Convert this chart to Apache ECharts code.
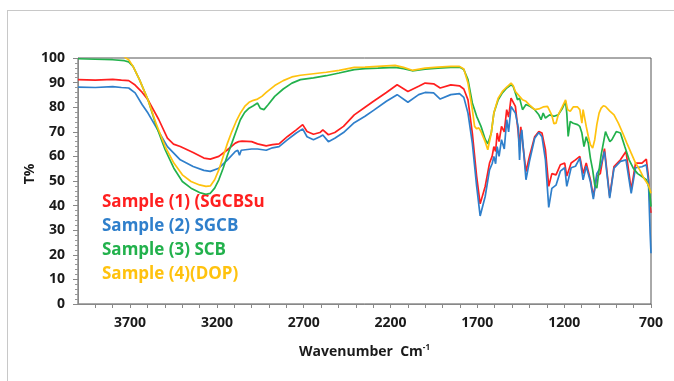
<!DOCTYPE html>
<html>
<head>
<meta charset="utf-8">
<script src="https://cdn.jsdelivr.net/npm/echarts@6/dist/echarts.min.js"></script>
<style>
  html, body { margin: 0; padding: 0; background: #fff; }
  #frame { position: absolute; left: 7px; top: 10px; width: 720px; height: 420px; border: 1px solid #c8c8c8; }
  #chart { position: absolute; left: 0; top: 0; width: 674px; height: 381px; }
</style>
</head>
<body>
<div id="frame"></div>
<div id="chart"></div>
<script>
// FTIR spectra, transmittance (T%) vs wavenumber (cm-1)
const xTicks = [3700, 3200, 2700, 2200, 1700, 1200, 700]

const sample1Wn = [4000, 3900, 3800, 3750, 3708, 3671, 3630, 3597, 3535, 3485, 3450, 3411, 3337, 3275, 3238, 3189, 3139, 3094, 3075, 3065, 3055, 3000, 2966, 2916, 2880, 2842, 2793, 2743, 2706, 2681, 2644, 2607, 2590, 2558, 2521, 2471, 2409, 2347, 2298, 2224, 2162, 2100, 2038, 2001, 1952, 1914, 1853, 1803, 1778, 1754, 1729, 1704, 1684, 1655, 1630, 1615, 1605, 1595, 1586, 1575, 1561, 1545, 1531, 1520, 1506, 1495, 1481, 1465, 1457, 1450, 1444, 1420, 1400, 1370, 1346, 1328, 1308, 1289, 1271, 1247, 1222, 1197, 1185, 1160, 1135, 1110, 1091, 1073, 1049, 1032, 1012, 992, 968, 938, 913, 876, 844, 814, 789, 752, 727, 715, 705, 700]
const sample1T = [91.2, 91.0, 91.3, 91.0, 90.8, 89, 86, 83, 75, 67.4, 65, 64, 61.6, 59.3, 58.9, 60, 62.7, 65.4, 66, 65.2, 66.2, 66, 65.1, 64.3, 64.8, 65.1, 68.1, 70.8, 72.9, 70.1, 69, 69.7, 70.8, 68.8, 69.7, 72.2, 76.9, 80, 82.4, 86, 89.1, 86.4, 88.5, 89.8, 89.5, 87.8, 89.1, 88.7, 87.4, 83, 69.5, 51.8, 40.7, 47.8, 57.3, 60, 64, 62, 69.5, 66, 72.2, 70, 79, 76, 83.7, 84, 80.3, 70, 64, 72, 72, 53.8, 60, 68, 70.1, 69.5, 62.7, 47.8, 53, 52.5, 56.6, 57.3, 52, 57.3, 58.6, 60, 53, 57.3, 50.5, 43.7, 52, 53, 63.2, 43.7, 55.9, 58.6, 62, 46.4, 57.3, 57.3, 58.9, 51.8, 39.6, 37]

const sample2Wn = [4000, 3900, 3800, 3750, 3708, 3671, 3630, 3597, 3535, 3485, 3411, 3337, 3275, 3238, 3189, 3139, 3094, 3080, 3070, 3060, 3000, 2966, 2916, 2880, 2842, 2793, 2743, 2706, 2681, 2644, 2607, 2590, 2558, 2521, 2471, 2409, 2347, 2298, 2224, 2162, 2100, 2038, 2001, 1952, 1914, 1853, 1803, 1778, 1754, 1729, 1704, 1684, 1655, 1630, 1615, 1605, 1595, 1586, 1575, 1561, 1545, 1531, 1520, 1506, 1495, 1481, 1465, 1457, 1450, 1444, 1420, 1400, 1370, 1346, 1328, 1308, 1289, 1271, 1247, 1222, 1197, 1185, 1160, 1135, 1110, 1091, 1073, 1049, 1032, 1012, 992, 968, 938, 913, 876, 844, 814, 789, 752, 727, 715, 705, 700]
const sample2T = [88.2, 88.0, 88.4, 88, 87.8, 85.8, 81, 77.6, 70.1, 64, 58.6, 55.9, 54.3, 53.9, 55.2, 58.6, 62, 62.5, 60.5, 62.5, 63, 63, 62.5, 63.5, 64, 66.8, 69.5, 71.2, 68, 66.8, 68, 68.7, 66, 67.4, 69.7, 73.7, 76.3, 78.7, 82.4, 85.1, 82, 85.1, 86, 85.8, 83.3, 85.1, 85.5, 84, 77.6, 65.4, 47.8, 35.8, 43.7, 54.5, 57, 60, 57, 64, 60, 66.8, 63, 74.9, 70, 80.3, 79.6, 77.6, 72, 58.6, 68, 70.8, 50.5, 58, 67.4, 69.7, 68, 58.6, 39.3, 47, 48.3, 54, 55.4, 47.8, 55.4, 56, 59.3, 50.5, 56, 49.8, 42.6, 53, 55.4, 62, 43, 55.2, 58, 58.6, 45, 55.4, 55.8, 56.6, 50.5, 28.8, 20.6]

const sample3Wn = [4000, 3900, 3800, 3733, 3708, 3683, 3646, 3597, 3548, 3498, 3448, 3399, 3349, 3300, 3263, 3238, 3213, 3189, 3164, 3139, 3114, 3090, 3065, 3040, 3015, 2990, 2966, 2950, 2929, 2904, 2867, 2818, 2768, 2719, 2644, 2570, 2496, 2409, 2347, 2273, 2174, 2125, 2075, 2001, 1927, 1853, 1803, 1778, 1754, 1729, 1704, 1679, 1655, 1640, 1620, 1605, 1580, 1556, 1531, 1506, 1494, 1481, 1469, 1457, 1440, 1420, 1395, 1370, 1346, 1333, 1321, 1308, 1284, 1259, 1234, 1210, 1192, 1185, 1177, 1165, 1148, 1123, 1110, 1098, 1086, 1073, 1061, 1049, 1036, 1024, 1012, 999, 987, 962, 950, 937, 925, 900, 876, 851, 826, 802, 777, 752, 727, 710, 700]
const sample3T = [99.7, 99.5, 99.3, 98.9, 98.4, 96.6, 91.2, 83, 72.2, 62.7, 55.2, 49.8, 47.1, 45.3, 44.6, 45, 47.1, 50.5, 55.2, 60.6, 65.4, 70.1, 74.9, 77.9, 79.6, 80.6, 81.7, 79.5, 79, 81.1, 84.4, 87.4, 89.8, 91.2, 91.9, 92.8, 93.9, 95.3, 95.7, 95.9, 96.2, 95.7, 94.8, 95.5, 95.9, 96.2, 96.3, 95.3, 91.2, 81.7, 76.3, 72.2, 67, 65.1, 69.5, 77.6, 83, 85.8, 87.8, 89.1, 88.5, 85.8, 83, 83.7, 79, 81.1, 80.3, 79, 76.9, 74.9, 77.6, 75.6, 76.9, 76.3, 76.9, 79.6, 82.4, 77.6, 68.1, 74.2, 73.5, 72.9, 72.2, 69.5, 64, 68, 65.4, 59.3, 54.5, 48.4, 47.1, 54.5, 60.6, 70.1, 68, 66, 66.8, 70.1, 69.5, 64, 58.6, 55.2, 53, 51.8, 50.5, 47.1, 39.6]

const sample4Wn = [4000, 3800, 3740, 3720, 3708, 3683, 3646, 3597, 3548, 3498, 3448, 3399, 3349, 3300, 3263, 3238, 3213, 3189, 3164, 3139, 3114, 3090, 3065, 3040, 3015, 2990, 2966, 2941, 2916, 2867, 2818, 2768, 2719, 2644, 2570, 2496, 2409, 2347, 2273, 2174, 2125, 2075, 2001, 1927, 1853, 1803, 1778, 1754, 1729, 1716, 1704, 1692, 1679, 1655, 1640, 1620, 1605, 1580, 1556, 1531, 1506, 1494, 1481, 1457, 1440, 1420, 1395, 1370, 1346, 1321, 1296, 1272, 1259, 1247, 1234, 1210, 1192, 1180, 1165, 1148, 1123, 1110, 1098, 1091, 1073, 1061, 1049, 1036, 1024, 1012, 999, 987, 974, 962, 937, 913, 888, 863, 839, 814, 789, 765, 740, 715, 700]
const sample4T = [101, 101, 101, 99.8, 99.3, 96.6, 91.2, 83, 72.9, 64, 57.3, 52.5, 49.8, 48.4, 47.8, 48, 50.5, 54.5, 60, 65.4, 70.1, 74.1, 77.6, 80.3, 82, 82.8, 83.3, 84.4, 86, 88.8, 90.8, 92.3, 93, 93.6, 94.2, 95, 96.2, 96.3, 96.6, 97, 96.2, 95, 95.9, 96.3, 96.6, 96.6, 95.5, 89.8, 79, 72.2, 71.2, 71.6, 70.1, 66, 62.7, 69.5, 77.6, 83.7, 86.4, 88.2, 89.8, 88.8, 86.4, 84.4, 83, 82.4, 80.6, 79, 79.3, 80.1, 80.3, 76.9, 73.3, 73.5, 76.9, 80.3, 83, 79, 78.4, 80.1, 80.1, 79, 73.5, 79, 72.2, 68.1, 64.8, 63.4, 66.8, 72.9, 77.6, 79.6, 80.6, 80.3, 78.4, 76.9, 73.5, 69.5, 65.4, 61.3, 57.3, 54.5, 51, 48.4, 45]

const sampleNames = ['Sample (1) (SGCBSu', 'Sample (2) SGCB', 'Sample (3) SCB', 'Sample (4)(DOP)']
const sampleColors = ['#ff1f1f', '#2f7fcb', '#22b14c', '#ffc20e']

const toPairs = (wn, t) => wn.map((w, i) => [w, t[i]])
const seriesData = [
  toPairs(sample1Wn, sample1T),
  toPairs(sample2Wn, sample2T),
  toPairs(sample3Wn, sample3T),
  toPairs(sample4Wn, sample4T)
]

const FONT = 'Open Sans'
const chart = echarts.init(document.getElementById('chart'))

chart.setOption({
  animation: false,
  grid: {
    left: 78,
    right: 23,
    top: 58,
    bottom: 77,
    show: true,
    borderColor: '#555',
    borderWidth: 1
  },
  xAxis: {
    type: 'value',
    min: 700,
    max: 4000,
    interval: 100,
    inverse: true,
    name: 'Wavenumber  Cm{sup|-1}',
    nameLocation: 'middle',
    nameGap: 40,
    nameTextStyle: {
      fontFamily: FONT,
      fontWeight: 'bold',
      fontSize: 14,
      color: '#1a1a1a',
      rich: {
        sup: { fontFamily: FONT, fontWeight: 'bold', fontSize: 8, color: '#1a1a1a', padding: [0, 0, 8, 0] }
      }
    },
    axisLine: { lineStyle: { color: '#888', width: 1 } },
    axisTick: { show: true, length: 4, lineStyle: { color: '#888' } },
    splitLine: { show: false },
    axisLabel: {
      margin: 12,
      fontFamily: FONT,
      fontWeight: 'bold',
      fontSize: 14,
      color: '#1a1a1a',
      showMaxLabel: false,
      formatter: v => (xTicks.indexOf(v) >= 0 ? String(v) : '')
    }
  },
  yAxis: {
    type: 'value',
    min: 0,
    max: 100,
    interval: 10,
    axisLine: { show: true, lineStyle: { color: '#888', width: 1 } },
    axisTick: { show: true, length: 5, lineStyle: { color: '#888' } },
    minorTick: { show: true, splitNumber: 5, length: 3, lineStyle: { color: '#999' } },
    splitLine: { show: false },
    axisLabel: {
      margin: 13,
      fontFamily: FONT,
      fontWeight: 'bold',
      fontSize: 14,
      color: '#1a1a1a'
    }
  },
  graphic: [
    {
      type: 'text',
      x: 30,
      y: 174,
      rotation: Math.PI / 2,
      style: {
        text: 'T%',
        fontFamily: FONT,
        fontWeight: 'bold',
        fontSize: 14,
        fill: '#1a1a1a',
        align: 'center',
        verticalAlign: 'middle'
      }
    }
  ].concat(sampleNames.map((name, i) => ({
    type: 'text',
    x: 102,
    y: 202 + i * 24,
    style: {
      text: name,
      fontFamily: FONT,
      fontWeight: 'bold',
      fontSize: 17,
      fill: sampleColors[i],
      align: 'left',
      verticalAlign: 'middle'
    }
  }))),
  series: seriesData.map((d, i) => ({
    name: sampleNames[i],
    type: 'line',
    data: d,
    showSymbol: false,
    smooth: false,
    clip: true,
    lineStyle: { color: sampleColors[i], width: 1.7 },
    z: 2 + i
  }))
})
</script>
</body>
</html>
